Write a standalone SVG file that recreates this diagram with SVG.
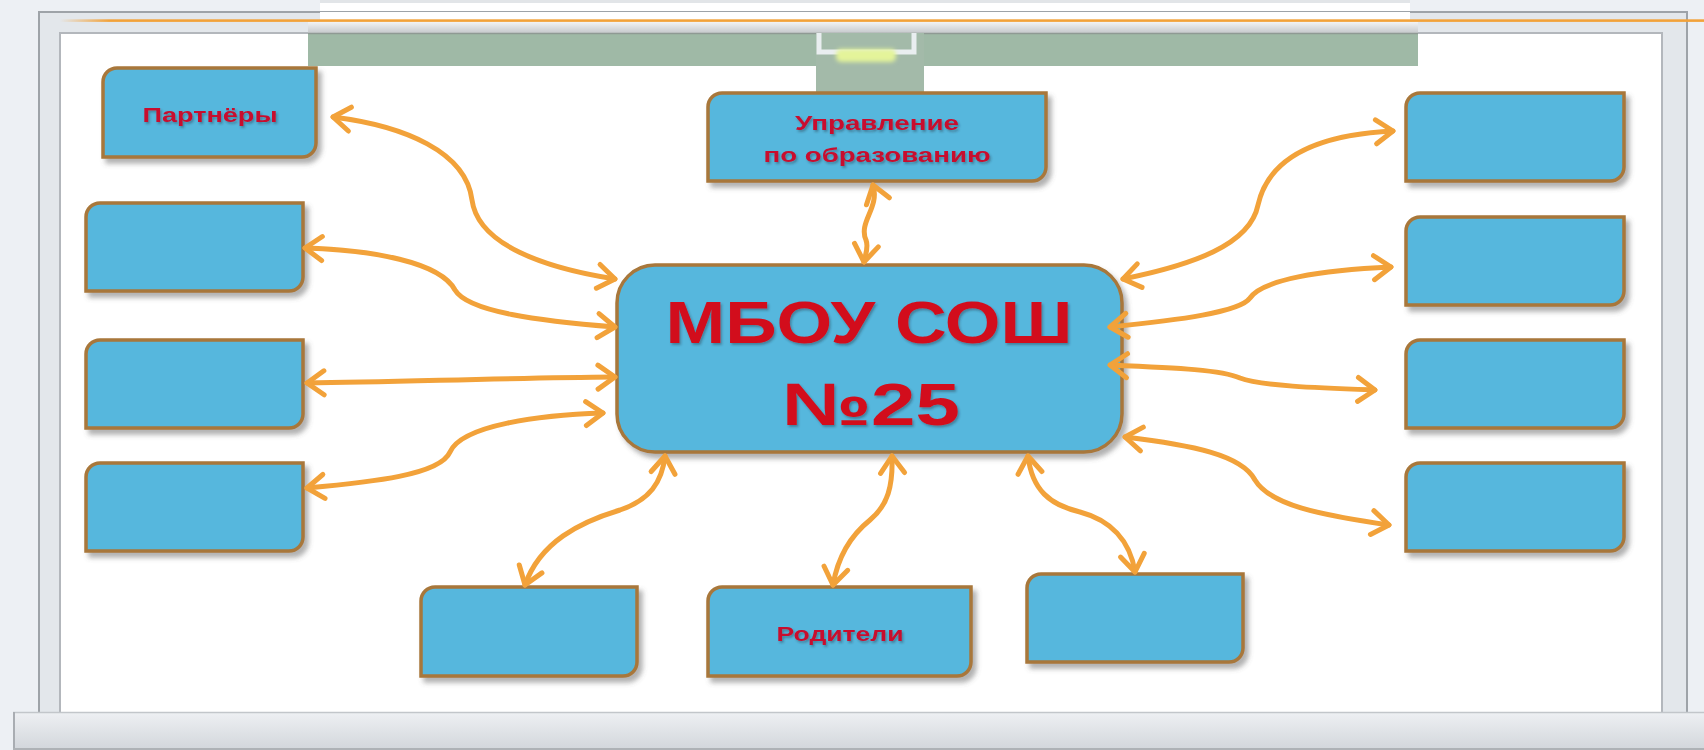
<svg xmlns="http://www.w3.org/2000/svg" width="1704" height="750" viewBox="0 0 1704 750">
<defs>
<style>
.box{fill:#56b7dd;stroke:#a8773a;stroke-width:3.5;filter:url(#sh)}
.con{fill:none;stroke:#f2a23a;stroke-width:5;stroke-linecap:round;marker-start:url(#ah);marker-end:url(#ah)}
.lbl{font-family:"Liberation Sans",Arial,sans-serif;font-weight:bold;fill:#c8102e;text-anchor:middle;filter:url(#tsh)}
.big{font-size:60px;fill:#d20f1c}
.sm{font-size:20px}
</style>
<filter id="sh" x="-10%" y="-10%" width="125%" height="130%">
<feDropShadow dx="4" dy="5" stdDeviation="2.5" flood-color="#555" flood-opacity="0.45"/>
</filter>
<filter id="tsh" x="-10%" y="-20%" width="120%" height="150%">
<feDropShadow dx="1.5" dy="2" stdDeviation="1.2" flood-color="#203040" flood-opacity="0.4"/>
</filter>
<filter id="glow" x="-30%" y="-50%" width="160%" height="200%">
<feGaussianBlur stdDeviation="2"/>
</filter>
<linearGradient id="bar" x1="0" y1="0" x2="0" y2="1">
<stop offset="0" stop-color="#eef0f3"/>
<stop offset="0.5" stop-color="#e0e3e7"/>
<stop offset="1" stop-color="#d2d6db"/>
</linearGradient>
<linearGradient id="hous" x1="0" y1="0" x2="0" y2="1">
<stop offset="0" stop-color="#f2f3f4"/>
<stop offset="1" stop-color="#c6c9cc"/>
</linearGradient>
<linearGradient id="orl" x1="0" y1="0" x2="1" y2="0">
<stop offset="0" stop-color="#f2a23a" stop-opacity="0"/>
<stop offset="0.03" stop-color="#f2a23a"/>
<stop offset="1" stop-color="#f2a23a"/>
</linearGradient>
<marker id="ah" viewBox="-22 -16 27 32" refX="0" refY="0" markerWidth="27" markerHeight="32" markerUnits="userSpaceOnUse" orient="auto-start-reverse">
<path d="M-17,-12 L0,0 L-17,12" fill="none" stroke="#f2a23a" stroke-width="5" stroke-linecap="round" stroke-linejoin="round"/>
</marker>
</defs>

<!-- background and frame -->
<rect x="0" y="0" width="1704" height="750" fill="#edf0f4"/>
<rect x="320" y="0" width="1090" height="20" fill="#ffffff"/>
<rect x="320" y="0" width="1090" height="3" fill="#e2e5e8"/>
<rect x="39" y="12" width="1648" height="712" fill="#e3e7eb" stroke="#9ea3a8" stroke-width="2"/>
<rect x="60" y="33" width="1602" height="690" fill="#ffffff" stroke="#b3b7bc" stroke-width="2"/>
<rect x="320" y="12" width="1090" height="10" fill="#ffffff"/>
<rect x="60" y="19.3" width="1644" height="2.6" fill="url(#orl)"/>
<rect x="308" y="22" width="1110" height="11" fill="url(#hous)"/>
<rect x="308" y="33" width="1110" height="33" fill="#9fb9a6"/>
<line x1="308" y1="33.5" x2="1418" y2="33.5" stroke="#8f9a94" stroke-width="1.5"/>
<rect x="816" y="33" width="108" height="59" fill="#a3baa9"/>
<path d="M819,33 V52 H914 V33" fill="none" stroke="#e9eef0" stroke-width="5"/>
<rect x="836" y="49" width="60" height="13" rx="5" fill="#e4f49a" filter="url(#glow)"/>
<rect x="13" y="712" width="1691" height="38" fill="url(#bar)"/>
<line x1="13" y1="712.5" x2="1704" y2="712.5" stroke="#c2c6ca" stroke-width="1.5"/>
<line x1="14" y1="712" x2="14" y2="750" stroke="#a9adb2" stroke-width="2"/>
<line x1="13" y1="749" x2="1704" y2="749" stroke="#aeb2b6" stroke-width="2"/>

<!-- nodes -->
<g id="center">
<rect class="box" x="617" y="265" width="505" height="187" rx="38" ry="38"/>
<text class="lbl big" x="869" y="343" textLength="407" lengthAdjust="spacingAndGlyphs">МБОУ СОШ</text>
<text class="lbl big" x="871" y="425" textLength="178" lengthAdjust="spacingAndGlyphs">№25</text>
</g>
<g id="partners">
<path class="box" d="M117,68 H316 V143 A14,14 0 0 1 302,157 H103 V82 A14,14 0 0 1 117,68 Z"/>
<text class="lbl sm" x="210" y="122" textLength="135" lengthAdjust="spacingAndGlyphs">Партнёры</text>
</g>
<g id="upravlenie">
<path class="box" d="M722,93 H1046 V167 A14,14 0 0 1 1032,181 H708 V107 A14,14 0 0 1 722,93 Z"/>
<text class="lbl sm" x="877" y="130" textLength="164" lengthAdjust="spacingAndGlyphs">Управление</text>
<text class="lbl sm" x="877" y="162" textLength="227" lengthAdjust="spacingAndGlyphs">по образованию</text>
</g>
<g id="left1"><path class="box" d="M100,203 H303 V277 A14,14 0 0 1 289,291 H86 V217 A14,14 0 0 1 100,203 Z"/></g>
<g id="left2"><path class="box" d="M100,340 H303 V414 A14,14 0 0 1 289,428 H86 V354 A14,14 0 0 1 100,340 Z"/></g>
<g id="left3"><path class="box" d="M100,463 H303 V537 A14,14 0 0 1 289,551 H86 V477 A14,14 0 0 1 100,463 Z"/></g>
<g id="right1"><path class="box" d="M1420,93 H1624 V167 A14,14 0 0 1 1610,181 H1406 V107 A14,14 0 0 1 1420,93 Z"/></g>
<g id="right2"><path class="box" d="M1420,217 H1624 V291 A14,14 0 0 1 1610,305 H1406 V231 A14,14 0 0 1 1420,217 Z"/></g>
<g id="right3"><path class="box" d="M1420,340 H1624 V414 A14,14 0 0 1 1610,428 H1406 V354 A14,14 0 0 1 1420,340 Z"/></g>
<g id="right4"><path class="box" d="M1420,463 H1624 V537 A14,14 0 0 1 1610,551 H1406 V477 A14,14 0 0 1 1420,463 Z"/></g>
<g id="bottom1"><path class="box" d="M435,587 H637 V662 A14,14 0 0 1 623,676 H421 V601 A14,14 0 0 1 435,587 Z"/></g>
<g id="roditeli">
<path class="box" d="M722,587 H971 V662 A14,14 0 0 1 957,676 H708 V601 A14,14 0 0 1 722,587 Z"/>
<text class="lbl sm" x="840" y="641" textLength="127" lengthAdjust="spacingAndGlyphs">Родители</text>
</g>
<g id="bottom3"><path class="box" d="M1041,574 H1243 V648 A14,14 0 0 1 1229,662 H1027 V588 A14,14 0 0 1 1041,574 Z"/></g>

<!-- connectors -->
<g id="connectors">
<path class="con" d="M333,117 C405,126 466,152 472,200 C478,245 545,268 615,279"/>
<path class="con" d="M305,248 C372,250 440,262 455,290 C468,312 540,321 615,327"/>
<path class="con" d="M307,383 C400,382 500,378 615,377"/>
<path class="con" d="M307,488 C372,482 440,475 450,452 C462,425 540,415 603,413"/>
<path class="con" d="M873,185 C880,208 858,222 866,240 C869,248 865,255 864,262"/>
<path class="con" d="M1123,279 C1192,265 1250,245 1258,205 C1268,160 1312,135 1393,131"/>
<path class="con" d="M1110,327 C1180,320 1240,312 1250,298 C1262,280 1320,270 1391,267"/>
<path class="con" d="M1110,365 C1180,368 1222,370 1240,378 C1260,386 1320,388 1375,390"/>
<path class="con" d="M1125,437 C1192,445 1242,455 1255,480 C1270,505 1320,515 1389,525"/>
<path class="con" d="M665,456 C662,482 650,500 620,510 C580,522 540,542 525,585"/>
<path class="con" d="M892,456 C893,486 888,505 870,520 C850,536 838,556 833,585"/>
<path class="con" d="M1028,456 C1032,490 1050,505 1080,512 C1110,520 1130,540 1135,572"/>
</g>
</svg>
